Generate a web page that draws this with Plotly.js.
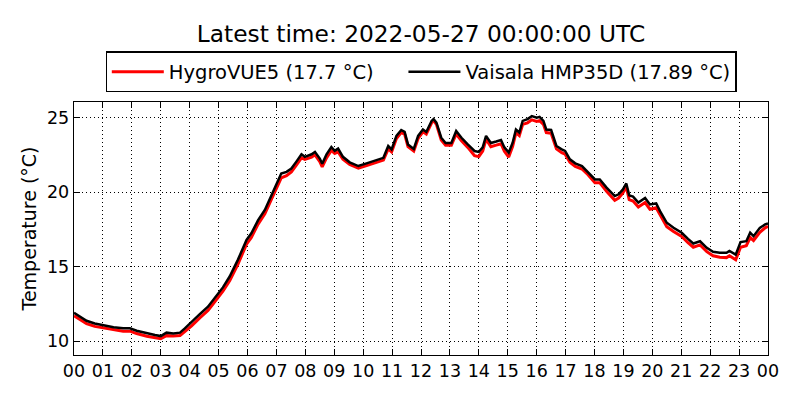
<!DOCTYPE html>
<html>
<head>
<meta charset="utf-8">
<script src="https://cdn.plot.ly/plotly-3.0.1.min.js"></script>
<style>
  html, body { margin: 0; padding: 0; background: #fff; }
  #chart { width: 800px; height: 400px; }
</style>
</head>
<body>
<div id="chart"></div>
<script>
// Sample times (UTC, 2022-05-26 unless marked next day)
const times = [
  '00:00','00:12','00:26','00:43','01:00','01:22','01:42','01:56','02:10','02:31','02:48',
  '03:00','03:12','03:26','03:40','03:50','04:04','04:21','04:38','04:50','05:09','05:23',
  '05:40','05:58','06:08','06:22','06:36','06:50','07:00','07:10','07:21','07:31','07:41',
  '07:52','07:59','08:13','08:20','08:30','08:35','08:44','08:54','09:01','09:08','09:18',
  '09:32','09:50','10:07','10:24','10:42','10:52','10:59','11:09','11:19','11:26','11:33',
  '11:45','11:54','12:04','12:11','12:22','12:26','12:32','12:42','12:51','13:03','13:13',
  '13:24','13:37','13:51','14:00','14:08','14:15','14:25','14:36','14:46','14:53','15:02',
  '15:10','15:17','15:24','15:31','15:41','15:50','16:00','16:06','16:14','16:20','16:30',
  '16:41','16:52','16:59','17:09','17:20','17:34','17:47','18:01','18:11','18:25','18:42',
  '18:50','18:59','19:06','19:12','19:20','19:31','19:45','19:55','20:08','20:16','20:30',
  '20:44','21:01','21:14','21:25','21:39','21:53','22:06','22:20','22:34','22:40','22:53',
  '23:03','23:15','23:23','23:30','23:43','23:54','next 00:00'
];

// HygroVUE5 temperature (°C)
const hygrovue = [
  11.70, 11.43, 11.17, 10.98, 10.88, 10.73, 10.66, 10.66, 10.50, 10.32, 10.21,
  10.15, 10.36, 10.33, 10.37, 10.62, 11.02, 11.55, 12.05, 12.55, 13.35, 14.05,
  15.15, 16.50, 16.95, 17.85, 18.55, 19.55, 20.20, 20.95, 21.10, 21.35, 21.80,
  22.30, 22.20, 22.35, 22.50, 22.05, 21.70, 22.30, 22.80, 22.60, 22.70, 22.20,
  21.85, 21.60, 21.78, 21.95, 22.15, 22.90, 22.70, 23.60, 24.00, 23.90, 23.05,
  22.75, 23.60, 24.05, 23.90, 24.65, 24.80, 24.55, 23.50, 23.15, 23.15, 23.90,
  23.45, 23.00, 22.45, 22.38, 22.75, 23.55, 23.05, 23.15, 23.25, 22.75, 22.35,
  23.05, 24.00, 23.80, 24.55, 24.65, 24.85, 24.75, 24.80, 24.55, 24.00, 23.95,
  22.90, 22.65, 22.55, 22.00, 21.72, 21.55, 21.15, 20.62, 20.62, 20.05, 19.45,
  19.60, 19.95, 20.35, 19.50, 19.40, 19.00, 19.30, 18.85, 18.95, 18.45, 17.68,
  17.35, 17.02, 16.60, 16.30, 16.45, 16.00, 15.72, 15.62, 15.60, 15.72, 15.45,
  16.30, 16.40, 16.95, 16.75, 17.30, 17.60, 17.70
];

// Vaisala HMP35D temperature (°C)
const vaisala = [
  11.90, 11.63, 11.36, 11.18, 11.07, 10.92, 10.85, 10.85, 10.69, 10.51, 10.40,
  10.33, 10.56, 10.51, 10.56, 10.85, 11.25, 11.80, 12.30, 12.80, 13.60, 14.33,
  15.45, 16.79, 17.23, 18.12, 18.80, 19.80, 20.47, 21.25, 21.36, 21.58, 22.03,
  22.54, 22.37, 22.54, 22.70, 22.25, 21.90, 22.54, 23.03, 22.77, 22.92, 22.37,
  22.00, 21.75, 21.93, 22.10, 22.30, 23.10, 22.87, 23.77, 24.17, 24.04, 23.20,
  22.90, 23.77, 24.20, 24.04, 24.78, 24.90, 24.66, 23.65, 23.30, 23.30, 24.10,
  23.65, 23.20, 22.76, 22.70, 23.00, 23.77, 23.30, 23.40, 23.50, 23.00, 22.65,
  23.30, 24.20, 24.00, 24.78, 24.90, 25.10, 25.00, 25.05, 24.78, 24.20, 24.17,
  23.10, 22.87, 22.76, 22.20, 21.93, 21.75, 21.35, 20.85, 20.85, 20.30, 19.73,
  19.85, 20.18, 20.58, 19.78, 19.70, 19.30, 19.60, 19.17, 19.24, 18.72, 17.94,
  17.60, 17.27, 16.86, 16.55, 16.70, 16.26, 15.99, 15.92, 15.92, 16.05, 15.80,
  16.64, 16.70, 17.27, 17.04, 17.60, 17.83, 17.89
];

const hourLabels = ['00','01','02','03','04','05','06','07','08','09','10','11',
                    '12','13','14','15','16','17','18','19','20','21','22','23','00'];

// turn 'HH:MM' into a full timestamp
const stamp = t => t.startsWith('next ')
  ? '2022-05-27 ' + t.slice(5)
  : '2022-05-26 ' + t;
const xs = times.map(stamp);
const tickVals = hourLabels.map((h, i) => i < 24 ? `2022-05-26 ${h}:00` : '2022-05-27 00:00');

const FONT = 'DejaVu Sans, sans-serif';
const GAP = '\u00a0\u00a0\u00a0\u00a0'; // extra room between legend entries

const data = [
  { x: xs, y: hygrovue, type: 'scatter', mode: 'lines',
    name: `HygroVUE5 (${hygrovue[hygrovue.length - 1]} °C)` + GAP,
    line: { color: '#ff0000', width: 3 } },
  { x: xs, y: vaisala, type: 'scatter', mode: 'lines',
    name: `Vaisala HMP35D (${vaisala[vaisala.length - 1]} °C)`,
    line: { color: '#000000', width: 2.5 } }
];

const axisCommon = {
  showline: true, linecolor: '#000', linewidth: 1.3, mirror: 'ticks',
  ticks: 'inside', ticklen: 6, tickcolor: '#000', tickwidth: 1,
  showgrid: true, gridcolor: '#000', gridwidth: 1, griddash: '1px,3px',
  zeroline: false,
  tickfont: { family: FONT, size: 17.5, color: '#000' }
};

const layout = {
  width: 800, height: 400,
  paper_bgcolor: '#fff', plot_bgcolor: '#fff',
  margin: { l: 74, r: 32, t: 102, b: 45 },
  font: { family: FONT, color: '#000' },
  title: { text: 'Latest time: 2022-05-27 00:00:00 UTC',
           font: { family: FONT, size: 23.3, color: '#000' },
           x: 0.5, xref: 'paper', xanchor: 'center',
           y: 0.915, yref: 'container', yanchor: 'middle' },
  showlegend: true,
  legend: { orientation: 'h', x: 0.5, xanchor: 'center', y: 1.119, yanchor: 'middle',
            bordercolor: '#000', borderwidth: 1.3, bgcolor: '#fff',
            itemwidth: 52,
            font: { family: FONT, size: 19.5, color: '#000' } },
  xaxis: Object.assign({}, axisCommon, {
    type: 'date',
    range: ['2022-05-26 00:00', '2022-05-27 00:00'],
    tickmode: 'array', tickvals: tickVals, ticktext: hourLabels
  }),
  yaxis: Object.assign({}, axisCommon, {
    range: [9.06, 26.05],
    tickmode: 'array', tickvals: [10, 15, 20, 25],
    title: { text: 'Temperature (°C)', font: { family: FONT, size: 19, color: '#000' }, standoff: 5 }
  })
};

Plotly.newPlot('chart', data, layout, { staticPlot: true, displayModeBar: false });
</script>
</body>
</html>
